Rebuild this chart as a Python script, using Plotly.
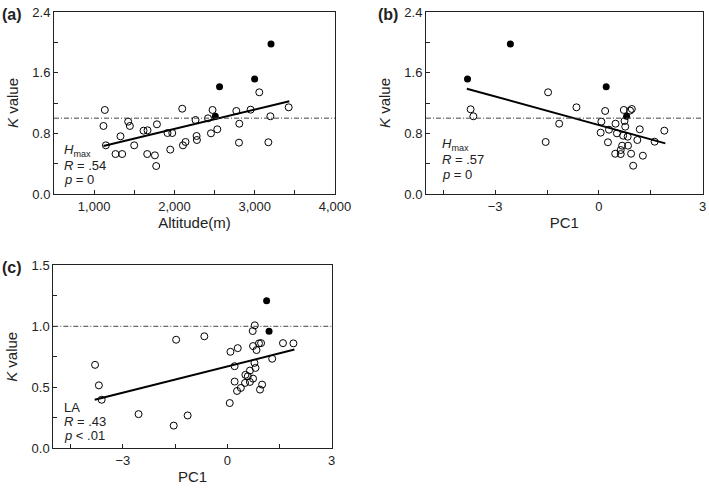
import plotly.graph_objects as go

# ---------------- data ----------------
# Panel (a): Hmax K value vs altitude
a_open_x = [1133, 1116, 1146, 1266, 1349, 1328, 1424, 1445, 1499, 1615, 1665, 1661, 1757, 1773,
            1782, 1914, 1973, 1948, 2097, 2106, 2138, 2263, 2276, 2280, 2418, 2475, 2455, 2534,
            2771, 2808, 2804, 2949, 3057, 3195, 3170, 3423]
a_open_y = [1.108, 0.897, 0.642, 0.527, 0.527, 0.761, 0.954, 0.897, 0.642, 0.835, 0.840, 0.527,
            0.510, 0.369, 0.919, 0.804, 0.804, 0.585, 1.125, 0.642, 0.686, 0.976, 0.765, 0.712,
            0.998, 1.108, 0.800, 0.853, 1.095, 0.927, 0.677, 1.112, 1.341, 1.025, 0.682, 1.143]
a_fill_x = [2562, 2999, 3203, 2509]
a_fill_y = [1.415, 1.517, 1.978, 1.025]
a_fit_x = [1116, 3431]
a_fit_y = [0.633, 1.222]

# Panel (b): Hmax K value vs PC1
b_open_x = [-3.71, -3.63, -1.47, -1.54, -1.15, -0.65,
            0.18, 0.72, 0.95, 0.74, 0.07, 0.48, 0.76, 1.18, 0.05, 0.29, 0.52, 0.70, 0.83,
            1.11, 1.61, 0.26, 0.67, 0.84, 0.63, 0.47, 0.63, 0.93, 1.27, 0.99, 1.89, 0.90]
b_open_y = [1.117, 1.025, 1.341, 0.686, 0.927, 1.143,
            1.095, 1.108, 1.121, 0.963, 0.954, 0.927, 0.888, 0.853, 0.809, 0.848, 0.800, 0.769,
            0.756, 0.712, 0.690, 0.682, 0.637, 0.637, 0.580, 0.531, 0.527, 0.531, 0.505, 0.373,
            0.835, 1.10]
b_fill_x = [-3.80, -2.56, 0.21, 0.80]
b_fill_y = [1.517, 1.978, 1.415, 1.025]
b_fit_x = [-3.82, 1.92]
b_fit_y = [1.389, 0.668]

# Panel (c): LA K value vs PC1
c_open_x = [-3.80, -3.69, -3.61, -2.55, -1.54, -1.14, -1.47, -0.66, 0.07, 0.09, 0.30, 0.21,
            0.21, 0.28, 0.51, 0.52, 0.59, 0.39, 0.65, 0.74, 0.65, 0.81, 0.78, 0.79, 0.73, 0.74,
            0.84, 0.91, 0.97, 1.00, 0.94, 1.29, 1.60, 1.90]
c_open_y = [0.684, 0.516, 0.398, 0.280, 0.186, 0.269, 0.890, 0.918, 0.371, 0.791, 0.821, 0.673,
            0.547, 0.470, 0.536, 0.602, 0.591, 0.495, 0.637, 0.571, 0.544, 0.659, 0.700, 1.008,
            0.961, 0.838, 0.805, 0.860, 0.862, 0.522, 0.481, 0.734, 0.862, 0.860]
c_fill_x = [1.13, 1.20]
c_fill_y = [1.209, 0.959]
c_fit_x = [-3.81, 1.93]
c_fit_y = [0.398, 0.810]

ref_k = 1.0

# ---------------- figure ----------------
W, H = 709, 490
FONT = "Liberation Sans, Arial, sans-serif"
AX = "#222222"

fig = go.Figure()

def add_panel(n, ox, oy, fx, fy, lx, ly):
    xa = "x" if n == 1 else f"x{n}"
    ya = "y" if n == 1 else f"y{n}"
    fig.add_trace(go.Scatter(x=ox, y=oy, mode="markers", xaxis=xa, yaxis=ya,
                             marker=dict(symbol="circle-open", size=7, color="black",
                                         line=dict(width=1, color="black")),
                             showlegend=False, hoverinfo="skip"))
    fig.add_trace(go.Scatter(x=fx, y=fy, mode="markers", xaxis=xa, yaxis=ya,
                             marker=dict(symbol="circle", size=7, color="black"),
                             showlegend=False, hoverinfo="skip"))
    fig.add_trace(go.Scatter(x=lx, y=ly, mode="lines", xaxis=xa, yaxis=ya,
                             line=dict(color="black", width=2),
                             showlegend=False, hoverinfo="skip"))
    fig.add_shape(type="line", xref=f"{xa} domain", yref=ya, x0=0, x1=1, y0=ref_k, y1=ref_k,
                  line=dict(color="#444444", width=1, dash="5px,2px,1px,2px"))

add_panel(1, a_open_x, a_open_y, a_fill_x, a_fill_y, a_fit_x, a_fit_y)
add_panel(2, b_open_x, b_open_y, b_fill_x, b_fill_y, b_fit_x, b_fit_y)
add_panel(3, c_open_x, c_open_y, c_fill_x, c_fill_y, c_fit_x, c_fit_y)

def px_x(p):
    return p / W

def px_y(p):
    return 1 - p / H

common = dict(showgrid=False, zeroline=False, showline=True, linecolor=AX, linewidth=1,
              mirror=True, ticks="inside", ticklen=4, tickcolor=AX, tickwidth=1,
              tickfont=dict(family=FONT, size=13, color=AX), automargin=False)

def xaxis(dom, anchor, rng, dtick, mdtick, title, fmt=None):
    d = dict(common, domain=dom, anchor=anchor, range=rng, tick0=0, dtick=dtick,
             minor=dict(ticks="inside", ticklen=4, tickcolor=AX, dtick=mdtick, tick0=0),
             title=dict(text=title, font=dict(family=FONT, size=15, color=AX), standoff=4))
    if fmt:
        d["tickformat"] = fmt
    return d

def yaxis(dom, anchor, rng, dtick, mdtick):
    return dict(common, domain=dom, anchor=anchor, range=rng, tick0=0, dtick=dtick,
                tickformat=".1f",
                minor=dict(ticks="inside", ticklen=4, tickcolor=AX, dtick=mdtick, tick0=0),
                title=dict(text="<i>K</i> value", font=dict(family=FONT, size=15, color=AX),
                           standoff=10))

fig.update_layout(
    width=W, height=H, margin=dict(l=0, r=0, t=0, b=0),
    paper_bgcolor="white", plot_bgcolor="white",
    font=dict(family=FONT, color=AX),
    xaxis=xaxis([px_x(54), px_x(335)], "y", [500, 4000], 1000, 500, "Altitude(m)", ",d"),
    yaxis=yaxis([px_y(194), px_y(12)], "x", [0, 2.4], 0.8, 0.4),
    xaxis2=xaxis([px_x(426), px_x(702.7)], "y2", [-5, 3], 3, 1.5, "PC1"),
    yaxis2=yaxis([px_y(194), px_y(12)], "x2", [0, 2.4], 0.8, 0.4),
    xaxis3=xaxis([px_x(53.3), px_x(331.7)], "y3", [-5, 3], 3, 1.5, "PC1"),
    yaxis3=yaxis([px_y(448.3), px_y(265.3)], "x3", [0, 1.5], 0.5, 0.25),
)

def note(text, x, y, size=13, bold=False):
    fig.add_annotation(text=f"<b>{text}</b>" if bold else text, xref="paper", yref="paper",
                       x=px_x(x), y=px_y(y), xanchor="left", yanchor="middle", showarrow=False,
                       font=dict(family=FONT, size=size, color=AX))

note("(a)", 0, 14, 16, True)
note("(b)", 376, 14, 16, True)
note("(c)", 0, 267, 16, True)

note("<i>H</i><sub>max</sub>", 62, 150)
note("<i>R</i> = .54", 62, 165)
note("<i>p</i> = 0", 62, 180)

note("<i>H</i><sub>max</sub>", 440, 144)
note("<i>R</i> = .57", 440, 160)
note("<i>p</i> = 0", 440, 174)

note("LA", 62, 407)
note("<i>R</i> = .43", 62, 421)
note("<i>p</i> &lt; .01", 62, 435)

fig.write_html("out.html",
               config={"displayModeBar": False, "staticPlot": True},
               post_script="document.body.style.margin='0';document.body.style.overflow='hidden';")
